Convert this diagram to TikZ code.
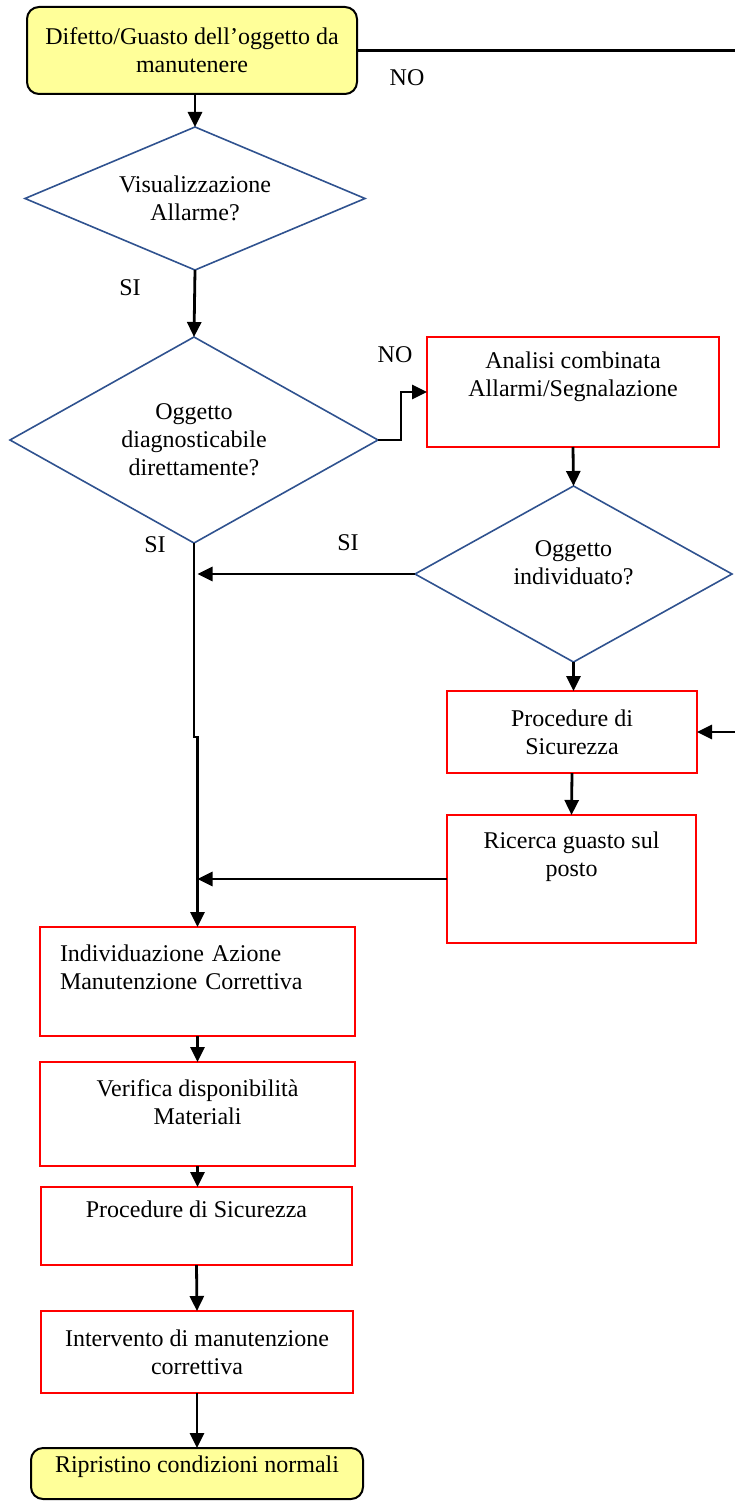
\documentclass[tikz,border=0pt]{standalone}
\usepackage{fontspec}
\setmainfont{Liberation Serif}
\usetikzlibrary{arrows.meta, positioning, shapes.geometric}

\definecolor{rombo}{RGB}{47,82,143}
\definecolor{giallo}{RGB}{255,255,153}

\begin{document}
\begin{tikzpicture}[x=1pt, y=-1pt,
    every node/.style={font=\fontsize{24}{28}\selectfont},
    terminale/.style={draw, line width=2pt, fill=giallo, rounded corners=12pt,
      align=center, inner sep=0pt, outer sep=0pt},
    decisione/.style={diamond, draw=rombo, line width=1.6pt, align=center,
      inner sep=0pt, outer sep=0pt},
    attivita/.style={rectangle, draw=red, line width=1.6pt, align=center,
      inner sep=0pt, outer sep=0pt},
    freccia/.style={line width=2.8pt, -{Triangle[length=15pt,width=14pt]}}]

    \useasboundingbox (0,0) rectangle (734,1501);

    % colonna principale
    \node[terminale, minimum width=330pt, minimum height=87pt] (guasto) at (192,50.5)
      {Difetto/Guasto dell’oggetto da\\manutenere};
    \node[decisione, aspect=2.38, minimum width=340pt, minimum height=143pt] (allarme)
      at (195,198.5) {Visualizzazione\\Allarme?};
    \node[decisione, aspect=1.79, minimum width=368pt, minimum height=206pt] (diagn)
      at (194,440) {Oggetto\\diagnosticabile\\direttamente?};

    % ramo destro
    \node[attivita, minimum width=292pt, minimum height=110pt] (analisi) at (573,392)
      {Analisi combinata\\Allarmi/Segnalazione\\[7pt]\mbox{}};
    \node[decisione, aspect=1.8, minimum width=317pt, minimum height=176pt] (individ)
      at (573.5,574) {Oggetto\\individuato?\\[-5pt]\mbox{}};
    \node[attivita, minimum width=250pt, minimum height=82pt] (sicur1) at (572,732)
      {Procedure di\\Sicurezza};
    \node[attivita, minimum width=249pt, minimum height=128pt] (ricerca) at (571.5,879)
      {Ricerca guasto sul\\posto\\[21pt]\mbox{}};

    % azioni correttive
    \node[attivita, minimum width=315pt, minimum height=109pt, text width=275pt,
      align=left] (azione) at (197.5,981.5)
      {Individuazione Azione\\Manutenzione Correttiva\\[1pt]\mbox{}};
    \node[attivita, minimum width=315pt, minimum height=104pt] (materiali) at (197.5,1114)
      {Verifica disponibilità\\Materiali\\[-5pt]\mbox{}};
    \node[attivita, minimum width=311pt, minimum height=78pt] (sicur2) at (196.5,1226)
      {Procedure di Sicurezza\\[5pt]\mbox{}};
    \node[attivita, minimum width=312pt, minimum height=82pt] (intervento) at (197,1352)
      {Intervento di manutenzione\\correttiva};
    \node[terminale, minimum width=332pt, minimum height=51pt] (ripristino) at (197,1473.5)
      {Ripristino condizioni normali\\[-9pt]\mbox{}};

    % etichette
    \node (no1) at (407,78) {NO};
    \node (si1) at (130,288) {SI};
    \node (no2) at (395,355) {NO};
    \node (si2) at (155,545) {SI};
    \node (si3) at (348,543) {SI};

    % collegamenti
    \coordinate (gomito) at (196,737);
    \coordinate (bordo) at (737,50.5);
    \draw[freccia] (allarme.north |- guasto.south) -- (allarme.north);
    \draw[freccia] (allarme.south) -- (diagn.north);
    \draw[freccia] (diagn.east) -- ++(23,0) |- (analisi.west);
    \draw[freccia] (analisi.south) -- (individ.north);
    \draw[freccia] (individ.west) -- (individ.west -| azione.north);
    \draw[freccia] (individ.south) -- (individ.south |- sicur1.north);
    \draw[freccia] (sicur1.south) -- (ricerca.north);
    \draw[freccia] (ricerca.west) -- (ricerca.west -| azione.north);
    \draw[freccia] (diagn.south) |- (gomito) -| (azione.north);
    \draw[freccia] (azione.south) -- (materiali.north);
    \draw[freccia] (materiali.south) -- (materiali.south |- sicur2.north);
    \draw[freccia] (sicur2.south) -- (intervento.north);
    \draw[freccia] (intervento.south) -- (ripristino.north);
    \draw[freccia] (guasto.east) -- (bordo) |- (sicur1.east);
\end{tikzpicture}
\end{document}
